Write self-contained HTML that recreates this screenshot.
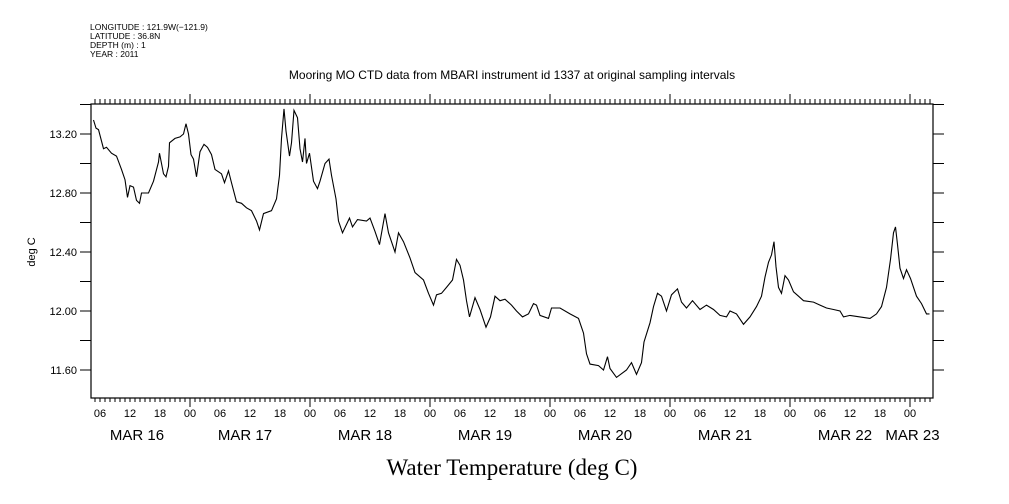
<!DOCTYPE html>
<html><head><meta charset="utf-8"><style>
html,body{margin:0;padding:0;background:#fff;}
svg{display:block;font-family:"Liberation Sans",sans-serif;}
</style></head><body>
<svg id="chart" width="1009" height="504" viewBox="0 0 1009 504">
<g font-size="8.5" fill="#000">
<text x="90" y="30">LONGITUDE : 121.9W(−121.9)</text>
<text x="90" y="39">LATITUDE : 36.8N</text>
<text x="90" y="48">DEPTH (m) : 1</text>
<text x="90" y="57">YEAR : 2011</text>
</g>
<text x="512" y="79" font-size="12" text-anchor="middle">Mooring MO CTD data from MBARI instrument id 1337 at original sampling intervals</text>
<text x="512" y="475" font-size="23" text-anchor="middle" font-family="'Liberation Serif',serif">Water Temperature (deg C)</text>
<text transform="translate(35,252) rotate(-90)" font-size="11" text-anchor="middle">deg C</text>
<rect x="91" y="104" width="842" height="294" fill="none" stroke="#000" stroke-width="1.2"/>
<g id="axes"></g>
<path id="series" fill="none" stroke="#000" stroke-width="1.1"/>
</svg>
<script>
const hours=[4.7,5.2,5.7,6.7,7.3,8.3,9.3,10.3,11,11.5,12,12.7,13.3,13.9,14.3,15.7,16.7,17.7,17.9,18.7,19.2,19.7,19.9,21,22,22.7,23.2,23.7,24.2,24.7,25.3,26,26.8,27.5,28.3,29,30.3,30.9,31.7,32.3,33.3,34.3,35.3,36.3,37.3,37.9,38.7,40.3,41.3,41.9,42.3,42.8,43.2,43.9,44.3,44.8,45.5,46,46.5,47,47.3,47.9,48.7,49.5,50,51,51.8,52.3,53.2,53.7,54.5,55.9,56.5,57.5,59.3,60,61,61.9,63,63.7,65,65.7,66.7,68,69,70.7,71.7,72.7,73.3,74.3,75.3,76.5,77.3,78,78.7,79.3,79.9,81,82,83.2,84.1,85,86,87,88.3,89.3,90.5,91.7,92.7,93.3,94,95.7,96.3,98,100,101.7,102.7,103.3,104,105.7,106.7,107.5,108,109.3,111.3,112.3,113.3,114.3,114.8,116,116.7,117.5,118.3,119.3,120.3,121.5,122.3,123.3,124.5,126,127.3,128.7,130,131.3,132,133.3,134.7,136,137.3,138.3,139,139.7,140.3,140.8,141.2,141.7,142.3,143,143.7,144.7,145.7,146.7,148.7,150,151.3,152.7,154,154.7,156,158,160,161.3,162.3,163.3,164.1,164.7,165.1,165.5,166,166.7,167.3,168.1,169.3,170.3,171.3,171.9];
const temps=[13.295,13.24,13.23,13.10,13.11,13.07,13.05,12.96,12.89,12.77,12.85,12.84,12.75,12.73,12.80,12.80,12.88,13.01,13.07,12.93,12.91,12.98,13.14,13.17,13.18,13.20,13.27,13.20,13.06,13.03,12.91,13.08,13.13,13.11,13.06,12.96,12.93,12.87,12.95,12.87,12.74,12.73,12.70,12.68,12.61,12.55,12.66,12.68,12.76,12.92,13.17,13.37,13.22,13.05,13.14,13.36,13.31,13.10,13.01,13.17,13.00,13.07,12.88,12.83,12.88,13.00,13.03,12.92,12.76,12.61,12.53,12.63,12.57,12.62,12.61,12.63,12.54,12.45,12.66,12.53,12.40,12.53,12.47,12.36,12.26,12.21,12.12,12.04,12.11,12.12,12.16,12.21,12.35,12.31,12.21,12.07,11.96,12.09,12.01,11.89,11.96,12.10,12.07,12.08,12.04,12.00,11.96,11.98,12.05,12.04,11.97,11.95,12.02,12.02,11.98,11.95,11.85,11.71,11.64,11.63,11.60,11.69,11.61,11.55,11.60,11.65,11.57,11.65,11.79,11.92,12.03,12.12,12.10,12.00,12.11,12.15,12.06,12.02,12.07,12.01,12.04,12.01,11.97,11.96,12.00,11.98,11.91,11.96,12.03,12.10,12.23,12.33,12.38,12.47,12.30,12.16,12.12,12.24,12.21,12.13,12.10,12.07,12.06,12.04,12.02,12.01,12.00,11.96,11.97,11.96,11.95,11.98,12.03,12.16,12.35,12.53,12.57,12.45,12.29,12.22,12.28,12.22,12.10,12.05,11.98,11.98];
const yTickLabels=["11.60","12.00","12.40","12.80","13.20"];
const hourLabels=["06","12","18","00"];
const dayLabels=["MAR 16","MAR 17","MAR 18","MAR 19","MAR 20","MAR 21","MAR 22","MAR 23"];
const dayLabelHours=[13.4,35,59,83,107,131,155,168.5];

const X0=91,X1=933,Y0=104,Y1=398;
function xs(h){return 70+h*5;}
function ys(v){return 134+(13.2-v)*147.5;}
const NS="http://www.w3.org/2000/svg";
const ax=document.getElementById('axes');
function mk(t,a){const e=document.createElementNS(NS,t);for(const k in a)e.setAttribute(k,a[k]);ax.appendChild(e);return e;}
let d="";
for(let h=5;h<=172;h++){const x=xs(h);const maj=h%24===0;
 d+="M"+x+" "+Y0+"V"+(Y0-(maj?10:5));
 d+="M"+x+" "+Y1+"V"+(Y1+(maj?9:4));}
for(let v=11.4;v<=13.41;v+=0.2){const y=ys(v);if(y<Y0-0.5||y>Y1+0.5)continue;
 d+="M"+(X0-11)+" "+y+"H"+X0+"M"+X1+" "+y+"H"+(X1+11);}
const tk=mk('path',{d:d,stroke:'#000','stroke-width':1,fill:'none'});


yTickLabels.forEach(s=>{const t=mk('text',{x:77,y:ys(parseFloat(s))+4,'font-size':11,'text-anchor':'end'});t.textContent=s;
 
 });
for(let h=6;h<=168;h+=6){const t=mk('text',{x:xs(h),y:417,'font-size':11,'text-anchor':'middle'});t.textContent=hourLabels[(h/6-1)%4];
 
 }
dayLabels.forEach((s,i)=>{const t=mk('text',{x:xs(dayLabelHours[i]),y:440,'font-size':15,'text-anchor':'middle'});t.textContent=s;
 
 });
let p="";hours.forEach((h,i)=>{p+=(i?"L":"M")+xs(h).toFixed(1)+" "+ys(temps[i]).toFixed(1);});
document.getElementById('series').setAttribute('d',p);
</script>
</body></html>
